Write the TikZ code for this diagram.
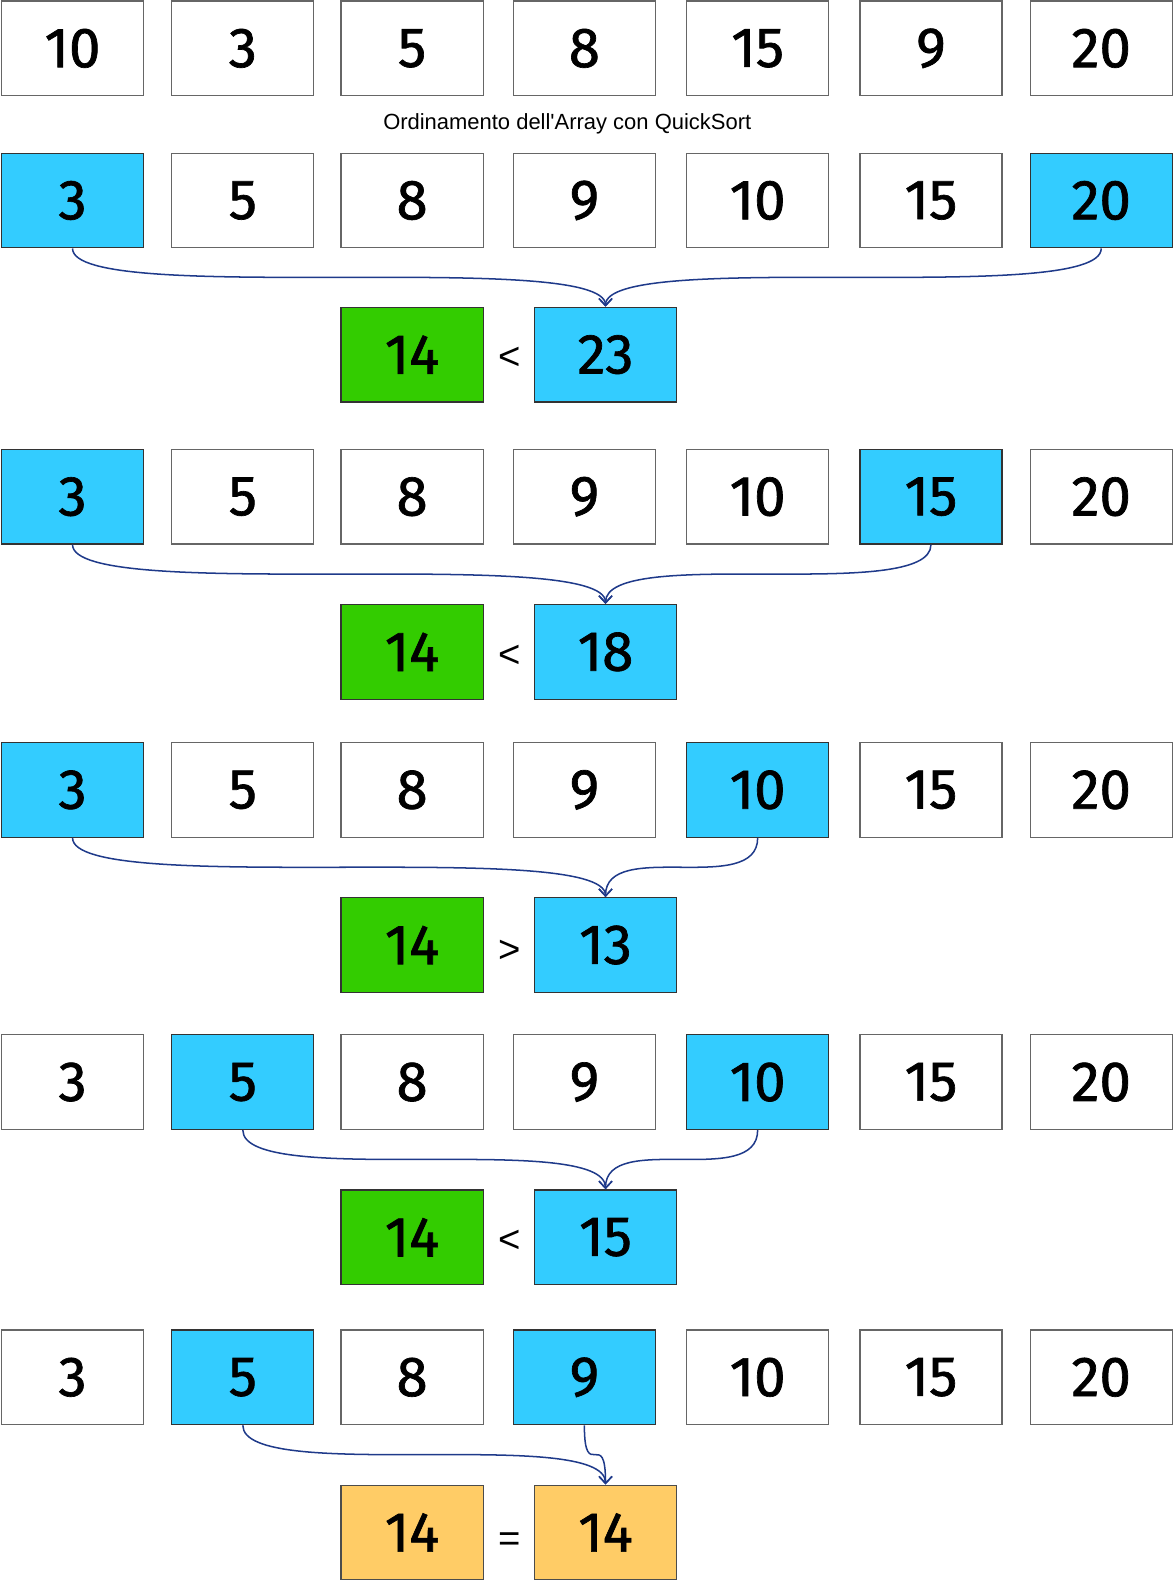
\documentclass[tikz,border=0pt]{standalone}
\usepackage{fontspec}
\setmainfont{Liberation Sans}
\newfontfamily\digitfont[FakeBold=1.2]{Fira Sans}
\usetikzlibrary{arrows.meta}
\definecolor{probeblue}{HTML}{33CCFF}
\definecolor{targetgreen}{HTML}{33CC00}
\definecolor{foundorange}{HTML}{FFCC66}
\definecolor{linkblue}{HTML}{1F3A8A}
\tikzset{
    cell/.style={draw=black!60, line width=1.2pt, fill=white,
        minimum width=141pt, minimum height=94pt, inner sep=0pt,
        font=\digitfont\fontsize{56}{56}\selectfont},
    probe/.style={cell, draw=black!80, fill=probeblue},
    target/.style={cell, draw=black!80, fill=targetgreen},
    found/.style={cell, draw=black!70, fill=foundorange},
    relop/.style={inner sep=0pt, font=\fontsize{38}{38}\selectfont},
    link/.style={draw=linkblue, line width=1.5pt,
        -{Straight Barb[length=7pt,width=13pt,line width=1.5pt]}}
}
\begin{document}
\begin{tikzpicture}[x=1pt,y=-1pt]
    \useasboundingbox (0,0) rectangle (1165.2,1568.2);
    % array before sorting
    \foreach \v/\x [count=\i] in {10/72, 3/241, 5/409, 8/580, 15/752, 9/924, 20/1093}{
        \node[cell] (r0-\i) at (\x, 48){\v};
    }
    \node[font=\fontsize{21.8}{22}\selectfont] (title) at (563, 123)
        {Ordinamento dell\textquotesingle Array con QuickSort};
    % sorted array, two probes per step
    \foreach \r/\y/\a/\b in {1/199/1/7, 2/493/1/6, 3/784/1/5, 4/1074/2/5, 5/1367/2/4}{
        \foreach \v/\x [count=\i] in {3/72, 5/241, 8/409, 9/580, 10/752, 15/924, 20/1093}{
            \def\sty{cell}
            \ifnum\i=\a\relax\def\sty{probe}\fi
            \ifnum\i=\b\relax\def\sty{probe}\fi
            \node[\sty] (r\r-\i) at (\x, \y){\v};
        }
    }
    % comparisons with the searched value
    \foreach \r/\y/\d/\a/\b/\op/\w/\ls/\rs in {1/352/4/1/7/</23/target/probe,
            2/647/4/1/6/</18/target/probe, 3/938/6/1/5/>/13/target/probe,
            4/1228/4/2/5/</15/target/probe, 5/1521/10/2/4/=/14/found/found}{
        \node[\ls] (k\r) at (409, \y){14};
        \node[relop] (op\r) at (506, \y+\d){\op};
        \node[\rs] (s\r) at (601, \y){\w};
        \draw[link] (r\r-\a.south) .. controls (r\r-\a.south |- s\r.north) and (s\r.north |- r\r-\a.south) .. (s\r.north);
        \draw[link] (r\r-\b.south) .. controls (r\r-\b.south |- s\r.north) and (s\r.north |- r\r-\b.south) .. (s\r.north);
    }
\end{tikzpicture}
\end{document}
